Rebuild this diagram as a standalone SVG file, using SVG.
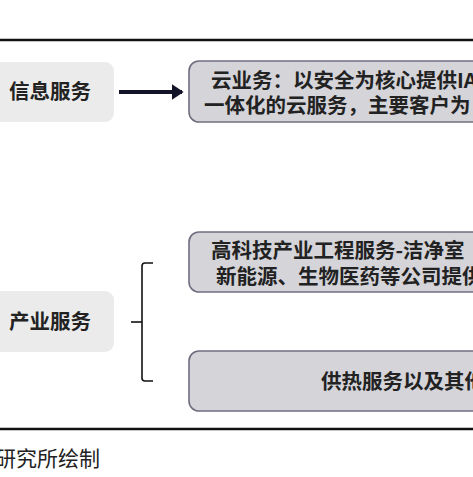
<svg xmlns="http://www.w3.org/2000/svg" width="473" height="477" viewBox="0 0 473 477">
<style>
.t{font-family:"Noto Sans CJK SC","Noto Sans",sans-serif;font-size:20.5px;font-weight:bold;fill:#222}
.left{fill:#ebebeb;stroke:none}
.right{fill:#d4d4d9;stroke:#6e6e80;stroke-width:1.6}
.rule{stroke:#111;stroke-width:2.5}
</style>
<defs>
<marker id="ah" markerWidth="4" markerHeight="4" refX="2.6" refY="2" orient="auto" markerUnits="strokeWidth">
<path d="M0,0 L3,2 L0,4 Z" fill="#141428"/>
</marker>
</defs>
<rect width="473" height="477" fill="#fff"/>
<line class="rule" x1="0" y1="40" x2="473" y2="40"/>
<line class="rule" x1="0" y1="429" x2="473" y2="429"/>
<g id="node-info">
<rect class="left" x="-12" y="62" width="126" height="60" rx="9"/>
<text class="t" x="50" y="99" text-anchor="middle">信息服务</text>
</g>
<g id="node-cloud">
<rect class="right" x="189" y="61" width="300" height="61" rx="10"/>
<text class="t" x="211" y="88">云业务：以安全为核心提供IA</text>
<text class="t" x="204" y="113">一体化的云服务，主要客户为</text>
</g>
<g id="node-industry">
<rect class="left" x="-12" y="291" width="126" height="61" rx="9"/>
<text class="t" x="50" y="329" text-anchor="middle">产业服务</text>
</g>
<g id="node-hightech">
<rect class="right" x="189" y="232" width="300" height="60" rx="10"/>
<text class="t" x="211" y="258">高科技产业工程服务-洁净室</text>
<text class="t" x="216" y="284">新能源、生物医药等公司提供</text>
</g>
<g id="node-heat">
<rect class="right" x="189" y="351" width="300" height="60" rx="10"/>
<text class="t" x="321" y="389">供热服务以及其他</text>
</g>
<g id="connectors" fill="none" stroke="#141428">
<line x1="119" y1="92" x2="182" y2="92" stroke-width="4" marker-end="url(#ah)"/>
<path d="M153,263 H145 Q142,263 142,266 V378 Q142,381 145,381 H153" stroke-width="1.6" stroke="#111"/>
<line x1="131" y1="322" x2="142" y2="322" stroke-width="1.6" stroke="#111"/>
</g>
<text x="-5" y="466" style="font-family:'Noto Sans CJK SC',sans-serif;font-size:21px;fill:#222">研究所绘制</text>
</svg>
